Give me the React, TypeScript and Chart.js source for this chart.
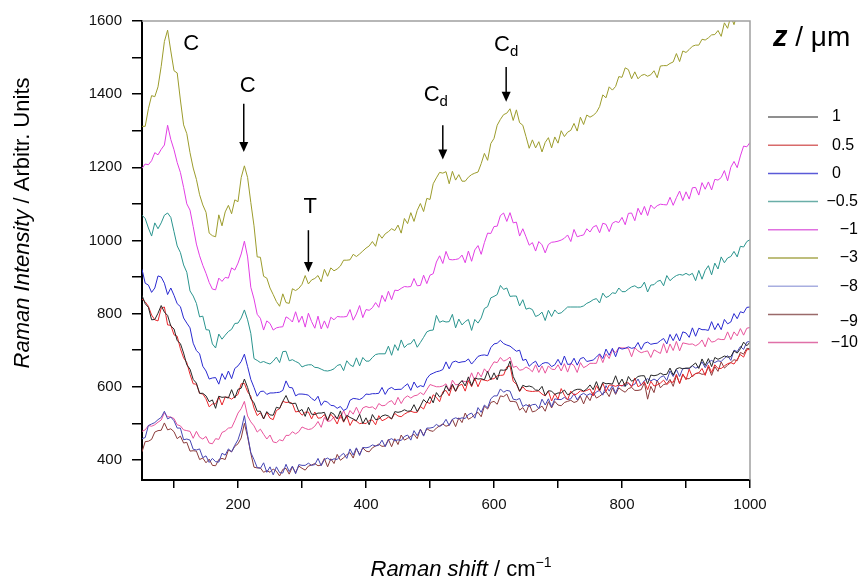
import React, { useEffect, useRef } from "react";
import { Chart, registerables } from "chart.js";

Chart.register(...registerables);

// Raman shift grid (cm^-1)
const ramanShift = [
  50, 55, 60, 65, 70, 75, 80, 85, 90, 95,
  100, 105, 110, 115, 120, 125, 130, 135, 140, 145,
  150, 155, 160, 165, 170, 175, 180, 185, 190, 195,
  200, 205, 210, 215, 220, 225, 230, 235, 240, 245,
  250, 255, 260, 265, 270, 275, 280, 285, 290, 295,
  300, 305, 310, 315, 320, 325, 330, 335, 340, 345,
  350, 355, 360, 365, 370, 375, 380, 385, 390, 395,
  400, 405, 410, 415, 420, 425, 430, 435, 440, 445,
  450, 455, 460, 465, 470, 475, 480, 485, 490, 495,
  500, 505, 510, 515, 520, 525, 530, 535, 540, 545,
  550, 555, 560, 565, 570, 575, 580, 585, 590, 595,
  600, 605, 610, 615, 620, 625, 630, 635, 640, 645,
  650, 655, 660, 665, 670, 675, 680, 685, 690, 695,
  700, 705, 710, 715, 720, 725, 730, 735, 740, 745,
  750, 755, 760, 765, 770, 775, 780, 785, 790, 795,
  800, 805, 810, 815, 820, 825, 830, 835, 840, 845,
  850, 855, 860, 865, 870, 875, 880, 885, 890, 895,
  900, 905, 910, 915, 920, 925, 930, 935, 940, 945,
  950, 955, 960, 965, 970, 975, 980, 985, 990, 995,
  1000,
];

// z = 1 µm
const z_p1 = [
  850, 827, 817, 783, 784, 801, 822, 804, 795, 766,
  758, 726, 718, 692, 660, 648, 620, 610, 582, 582,
  575, 559, 564, 541, 574, 571, 572, 569, 592, 569,
  593, 596, 621, 598, 567, 556, 533, 533, 512, 532,
  523, 522, 544, 541, 560, 576, 556, 554, 555, 532,
  538, 519, 544, 525, 524, 528, 528, 530, 508, 530,
  525, 512, 534, 505, 522, 516, 512, 507, 525, 499,
  515, 496, 524, 510, 512, 520, 523, 520, 512, 532,
  530, 532, 537, 533, 534, 551, 532, 547, 565, 556,
  573, 556, 584, 572, 580, 603, 588, 607, 588, 607,
  617, 602, 627, 603, 624, 621, 622, 619, 642, 619,
  638, 619, 646, 645, 647, 670, 628, 610, 588, 604,
  600, 602, 599, 591, 590, 601, 576, 589, 588, 579,
  583, 583, 591, 578, 582, 590, 593, 593, 588, 594,
  605, 592, 614, 591, 612, 608, 609, 607, 630, 606,
  621, 601, 628, 615, 620, 628, 630, 630, 608, 632,
  630, 632, 637, 633, 634, 651, 632, 649, 652, 649,
  651, 651, 658, 665, 650, 676, 658, 677, 655, 680,
  675, 679, 684, 681, 682, 698, 692, 704, 722, 712,
  722,
];

// z = 0.5 µm
const z_p05 = [
  840, 832, 820, 796, 783, 780, 815, 818, 769, 768,
  742, 738, 704, 679, 666, 634, 608, 607, 582, 580,
  567, 545, 553, 553, 573, 550, 572, 571, 566, 573,
  579, 608, 609, 586, 574, 542, 521, 529, 512, 530,
  514, 510, 535, 540, 560, 557, 558, 554, 531, 533,
  522, 530, 531, 512, 531, 514, 515, 524, 507, 525,
  514, 498, 523, 503, 520, 494, 510, 506, 499, 501,
  499, 508, 509, 496, 521, 507, 511, 517, 512, 527,
  520, 518, 525, 530, 533, 530, 530, 546, 539, 558,
  554, 578, 571, 559, 586, 590, 575, 604, 587, 603,
  607, 588, 617, 600, 623, 600, 620, 618, 616, 621,
  622, 630, 631, 632, 654, 657, 615, 607, 587, 600,
  590, 588, 587, 588, 588, 580, 575, 588, 561, 581,
  566, 595, 577, 564, 588, 577, 581, 589, 587, 590,
  594, 575, 603, 588, 610, 587, 605, 604, 601, 605,
  602, 610, 611, 599, 624, 600, 605, 614, 592, 615,
  602, 605, 610, 618, 606, 614, 612, 634, 609, 635,
  619, 648, 627, 636, 638, 650, 631, 659, 639, 660,
  650, 650, 657, 663, 666, 662, 675, 688, 681, 701,
  702,
];

// z = 0 µm
const z_0 = [
  921, 883, 878, 858, 870, 903, 900, 883, 852, 870,
  850, 827, 819, 788, 774, 761, 719, 699, 690, 656,
  643, 621, 624, 625, 607, 636, 620, 643, 622, 650,
  657, 669, 689, 655, 620, 598, 574, 587, 588, 579,
  583, 583, 584, 585, 590, 616, 598, 597, 575, 580,
  580, 579, 577, 568, 562, 574, 549, 561, 558, 549,
  548, 541, 546, 535, 540, 563, 568, 567, 565, 570,
  580, 579, 581, 581, 582, 598, 579, 594, 598, 592,
  593, 593, 601, 608, 590, 613, 598, 603, 600, 622,
  633, 637, 641, 643, 647, 668, 649, 667, 670, 666,
  668, 669, 676, 662, 672, 683, 686, 687, 685, 707,
  717, 719, 727, 718, 714, 711, 704, 697, 700, 672,
  675, 656, 664, 670, 654, 663, 666, 665, 655, 660,
  675, 659, 684, 661, 662, 678, 659, 677, 680, 669,
  671, 673, 681, 690, 677, 703, 686, 705, 682, 707,
  703, 705, 709, 705, 707, 721, 702, 719, 722, 716,
  718, 719, 726, 732, 717, 743, 726, 745, 725, 750,
  747, 735, 761, 738, 760, 756, 756, 754, 778, 756,
  773, 756, 784, 772, 777, 800, 786, 805, 802, 817,
  818,
];

// z = -0.5 µm
const z_m05 = [
  1069, 1060, 1034, 1012, 1048, 1032, 1048, 1069, 1075, 1063,
  1024, 985, 967, 933, 913, 862, 848, 828, 791, 793,
  756, 755, 717, 706, 744, 730, 741, 751, 757, 773,
  774, 788, 810, 783, 746, 677, 672, 666, 669, 665,
  662, 670, 681, 666, 696, 697, 671, 674, 669, 665,
  654, 658, 660, 660, 653, 652, 648, 644, 643, 645,
  649, 658, 661, 644, 671, 660, 655, 679, 657, 680,
  670, 670, 680, 688, 690, 690, 690, 711, 686, 715,
  699, 728, 707, 716, 718, 730, 708, 721, 735, 750,
  754, 755, 795, 776, 780, 777, 778, 798, 761, 785,
  769, 778, 784, 754, 784, 774, 788, 814, 819, 843,
  847, 852, 877, 866, 870, 847, 848, 848, 821, 838,
  812, 815, 811, 792, 796, 804, 781, 809, 792, 810,
  800, 802, 810, 818, 818, 818, 818, 818, 821, 828,
  832, 838, 841, 829, 856, 844, 848, 857, 855, 870,
  860, 860, 867, 873, 876, 870, 872, 886, 859, 878,
  879, 888, 891, 876, 904, 890, 898, 904, 907, 905,
  910, 905, 910, 890, 918, 894, 918, 931, 906, 938,
  922, 955, 939, 952, 956, 970, 955, 984, 982, 997,
  1002,
];

// z = -1 µm
const z_m1 = [
  1197, 1209, 1207, 1218, 1240, 1234, 1249, 1261, 1315, 1276,
  1248, 1213, 1186, 1145, 1100, 1083, 1038, 990, 958, 932,
  910, 885, 867, 865, 897, 888, 899, 897, 925, 919,
  938, 963, 998, 955, 872, 840, 798, 787, 755, 780,
  773, 755, 761, 763, 764, 791, 786, 777, 805, 776,
  793, 763, 801, 778, 760, 793, 758, 780, 760, 790,
  783, 792, 791, 791, 792, 811, 782, 799, 822, 789,
  811, 809, 816, 830, 817, 850, 833, 861, 838, 864,
  863, 869, 874, 873, 874, 896, 876, 877, 905, 882,
  905, 909, 941, 958, 937, 970, 948, 947, 948, 950,
  960, 939, 971, 943, 974, 986, 962, 994, 1020, 1019,
  1038, 1039, 1068, 1075, 1052, 1076, 1048, 1050, 1012, 1032,
  1010, 987, 994, 971, 997, 988, 966, 989, 995, 996,
  998, 1001, 1006, 1015, 997, 1030, 1010, 1013, 1015, 1032,
  1023, 1037, 1041, 1021, 1047, 1044, 1024, 1047, 1052, 1049,
  1063, 1043, 1074, 1075, 1054, 1088, 1070, 1093, 1068, 1097,
  1087, 1095, 1099, 1098, 1097, 1118, 1096, 1117, 1135, 1109,
  1133, 1113, 1144, 1145, 1124, 1158, 1140, 1160, 1138, 1167,
  1165, 1172, 1191, 1163, 1200, 1216, 1199, 1231, 1258, 1256,
  1268,
];

// z = -3 µm
const z_m3 = [
  1312, 1312, 1360, 1396, 1393, 1420, 1476, 1544, 1575, 1518,
  1464, 1458, 1384, 1316, 1292, 1240, 1198, 1167, 1125, 1097,
  1077, 1020, 1013, 1010, 1070, 1040, 1078, 1096, 1073, 1111,
  1106, 1172, 1204, 1172, 1104, 1040, 955, 954, 902, 897,
  870, 852, 833, 820, 854, 830, 828, 868, 863, 869,
  880, 904, 881, 892, 896, 904, 887, 921, 902, 925,
  917, 922, 930, 946, 946, 947, 962, 956, 963, 971,
  979, 985, 997, 984, 1018, 1006, 1018, 1024, 1032, 1027,
  1042, 1020, 1060, 1046, 1076, 1052, 1082, 1101, 1079, 1115,
  1112, 1155, 1171, 1186, 1184, 1188, 1155, 1189, 1165, 1180,
  1162, 1162, 1173, 1180, 1184, 1187, 1210, 1238, 1219, 1265,
  1279, 1315, 1331, 1344, 1348, 1360, 1328, 1357, 1322, 1315,
  1284, 1252, 1275, 1253, 1270, 1242, 1268, 1281, 1253, 1283,
  1266, 1300, 1284, 1296, 1301, 1320, 1299, 1337, 1317, 1343,
  1337, 1342, 1350, 1366, 1398, 1390, 1420, 1411, 1421, 1448,
  1446, 1472, 1467, 1442, 1461, 1442, 1451, 1454, 1449, 1453,
  1464, 1445, 1477, 1478, 1478, 1484, 1488, 1511, 1489, 1518,
  1514, 1522, 1531, 1534, 1534, 1550, 1548, 1554, 1562, 1563,
  1574, 1558, 1595, 1580, 1613, 1590, 1620, 1618, 1626, 1643,
  1645,
];

// z = -8 µm
const z_m8 = [
  458, 461, 494, 498, 502, 510, 516, 533, 512, 517,
  507, 487, 487, 455, 457, 454, 429, 427, 430, 406,
  411, 393, 404, 395, 394, 418, 413, 430, 422, 440,
  455, 482, 521, 468, 420, 401, 379, 377, 392, 366,
  381, 359, 381, 365, 364, 388, 368, 383, 362, 387,
  385, 385, 391, 385, 387, 404, 384, 401, 405, 399,
  403, 401, 411, 418, 404, 430, 413, 433, 412, 434,
  433, 435, 441, 438, 440, 454, 436, 454, 458, 452,
  455, 453, 464, 468, 454, 480, 466, 483, 465, 487,
  487, 489, 497, 491, 497, 511, 494, 511, 515, 512,
  515, 513, 524, 528, 514, 543, 530, 550, 542, 567,
  575, 575, 594, 585, 590, 588, 566, 564, 568, 546,
  551, 546, 551, 552, 540, 566, 550, 567, 545, 567,
  565, 565, 571, 565, 567, 581, 564, 577, 582, 576,
  581, 576, 586, 590, 577, 603, 588, 603, 582, 604,
  603, 602, 609, 603, 607, 621, 604, 617, 622, 616,
  621, 616, 626, 630, 617, 643, 628, 647, 628, 650,
  650, 649, 657, 651, 654, 668, 652, 667, 672, 666,
  671, 669, 678, 685, 672, 700, 696, 710, 702, 722,
  724,
];

// z = -9 µm
const z_m9 = [
  422, 450, 451, 456, 476, 480, 481, 501, 482, 485,
  477, 458, 465, 446, 448, 424, 425, 424, 401, 405,
  392, 402, 385, 384, 401, 404, 401, 427, 422, 437,
  444, 460, 500, 463, 418, 380, 378, 378, 366, 371,
  366, 375, 369, 356, 374, 377, 361, 381, 365, 383,
  377, 372, 383, 386, 390, 384, 386, 404, 381, 403,
  390, 415, 399, 406, 414, 420, 405, 431, 415, 433,
  424, 422, 433, 438, 443, 437, 438, 456, 436, 458,
  442, 468, 454, 459, 464, 470, 458, 484, 467, 485,
  480, 478, 487, 493, 498, 492, 495, 511, 491, 515,
  502, 528, 511, 516, 524, 530, 518, 547, 539, 557,
  560, 552, 575, 573, 580, 560, 560, 558, 536, 543,
  529, 552, 531, 534, 541, 547, 533, 559, 542, 560,
  550, 548, 557, 560, 563, 557, 560, 574, 553, 575,
  562, 585, 569, 574, 581, 587, 573, 597, 579, 597,
  590, 585, 595, 598, 590, 590, 592, 611, 566, 601,
  584, 618, 597, 606, 608, 620, 601, 631, 609, 633,
  622, 622, 630, 636, 638, 634, 635, 654, 631, 655,
  642, 668, 651, 659, 666, 674, 671, 694, 689, 705,
  704,
];

// z = -10 µm
const z_m10 = [
  478, 482, 494, 492, 496, 503, 509, 529, 518, 517,
  513, 496, 493, 482, 480, 478, 459, 478, 462, 457,
  464, 446, 444, 458, 456, 475, 479, 487, 488, 507,
  528, 540, 560, 520, 504, 493, 476, 484, 470, 457,
  468, 449, 447, 455, 452, 467, 467, 477, 471, 477,
  490, 486, 483, 485, 492, 505, 489, 516, 505, 507,
  518, 514, 514, 535, 514, 535, 525, 544, 525, 542,
  546, 543, 545, 538, 554, 548, 549, 558, 562, 550,
  571, 554, 569, 575, 569, 575, 577, 584, 578, 592,
  606, 603, 600, 600, 602, 608, 589, 618, 605, 607,
  616, 614, 614, 638, 616, 640, 627, 649, 638, 654,
  668, 666, 680, 670, 674, 681, 653, 656, 645, 647,
  654, 649, 641, 660, 639, 657, 637, 657, 648, 647,
  660, 643, 663, 640, 664, 658, 639, 666, 652, 657,
  664, 664, 664, 688, 666, 690, 677, 701, 693, 707,
  706, 706, 705, 682, 707, 698, 693, 696, 698, 680,
  701, 696, 691, 718, 692, 717, 699, 724, 698, 720,
  718, 716, 717, 712, 717, 728, 709, 734, 722, 724,
  731, 729, 729, 750, 729, 750, 739, 759, 741, 760,
  762,
];

const seriesLabels = ["1", "0.5", "0", "\u22120.5", "\u22121", "\u22123", "\u22128", "\u22129", "\u221210"];
const seriesValues = [z_p1, z_p05, z_0, z_m05, z_m1, z_m3, z_m8, z_m9, z_m10];
const lineColors = ["#262626", "#e8262c", "#2a2ad0", "#2a948e", "#e23ee4", "#9c9c2c", "#4646b4", "#8a3a3a", "#e8549c"];
const legendColors = ["#6a6a6a", "#d86a6a", "#5a5ad8", "#6aaea8", "#e070e0", "#a8a850", "#a8aee0", "#9a6a6a", "#e070a8"];

const xTickLabels = [200, 400, 600, 800, 1000];
const yTickLabels = [400, 600, 800, 1000, 1200, 1400, 1600];

// annotations (data coordinates)
const annoText = ["C", "C", "T", "C", "C"];
const annoSub = ["", "", "", "d", "d"];
const annoX = [127, 215, 313, 509, 619];
const annoY = [1538, 1422, 1092, 1397, 1534];
const arrowX = [209, 310, 520, 619];
const arrowFrom = [1374, 1028, 1315, 1474];
const arrowTo = [1242, 914, 1221, 1379];

const FONT = '"Liberation Sans", Arial, Helvetica, sans-serif';

type Run = { text: string; font: string; dy?: number };

function drawRuns(ctx: CanvasRenderingContext2D, runs: Run[], cx: number, cy: number, align: "center" | "left" | "right") {
  let total = 0;
  const widths = runs.map((r) => {
    ctx.font = r.font;
    const w = ctx.measureText(r.text).width;
    total += w;
    return w;
  });
  let x = align === "center" ? cx - total / 2 : align === "right" ? cx - total : cx;
  ctx.textAlign = "left";
  runs.forEach((r, i) => {
    ctx.font = r.font;
    ctx.fillText(r.text, x, cy + (r.dy || 0));
    x += widths[i];
  });
}

const overlayPlugin = {
  id: "overlay",
  afterDraw(chart: any) {
    const ctx: CanvasRenderingContext2D = chart.ctx;
    const { left, right, top, bottom } = chart.chartArea;
    const xs = chart.scales.x;
    const ys = chart.scales.y;
    ctx.save();

    // gray frame top/right
    ctx.strokeStyle = "#a0a0a0";
    ctx.lineWidth = 1.5;
    ctx.beginPath();
    ctx.moveTo(left, top);
    ctx.lineTo(right, top);
    ctx.lineTo(right, bottom);
    ctx.stroke();

    ctx.fillStyle = "#000";
    ctx.textBaseline = "middle";

    // y-axis title
    ctx.save();
    ctx.translate(23, 223);
    ctx.rotate(-Math.PI / 2);
    drawRuns(ctx, [
      { text: "Raman Intensity", font: `italic 22px ${FONT}` },
      { text: " / Arbitr. Units", font: `22px ${FONT}` },
    ], 0, 0, "center");
    ctx.restore();

    // x-axis title
    drawRuns(ctx, [
      { text: "Raman shift", font: `italic 22px ${FONT}` },
      { text: " / cm", font: `22px ${FONT}` },
      { text: "\u22121", font: `14px ${FONT}`, dy: -7 },
    ], 461, 570, "center");

    // annotations
    for (let i = 0; i < annoText.length; i++) {
      const px = xs.getPixelForValue(annoX[i]);
      const py = ys.getPixelForValue(annoY[i]);
      const runs: Run[] = [{ text: annoText[i], font: `22px ${FONT}` }];
      if (annoSub[i]) runs.push({ text: annoSub[i], font: `15px ${FONT}`, dy: 7 });
      drawRuns(ctx, runs, px, py, "center");
    }
    ctx.strokeStyle = "#000";
    ctx.lineWidth = 1.5;
    for (let i = 0; i < arrowX.length; i++) {
      const px = xs.getPixelForValue(arrowX[i]);
      const y1 = ys.getPixelForValue(arrowFrom[i]);
      const y2 = ys.getPixelForValue(arrowTo[i]);
      ctx.beginPath();
      ctx.moveTo(px, y1);
      ctx.lineTo(px, y2 - 8);
      ctx.stroke();
      ctx.beginPath();
      ctx.moveTo(px, y2);
      ctx.lineTo(px - 4.5, y2 - 10);
      ctx.lineTo(px + 4.5, y2 - 10);
      ctx.closePath();
      ctx.fill();
    }

    // legend
    drawRuns(ctx, [
      { text: "z", font: `italic bold 29px ${FONT}` },
      { text: " / \u03bcm", font: `28px ${FONT}` },
    ], 773, 38, "left");
    for (let i = 0; i < seriesLabels.length; i++) {
      const ly = 117 + i * 28.2;
      ctx.strokeStyle = legendColors[i];
      ctx.lineWidth = 1.5;
      ctx.beginPath();
      ctx.moveTo(768, ly);
      ctx.lineTo(818, ly);
      ctx.stroke();
      ctx.font = `16px ${FONT}`;
      const label = seriesLabels[i];
      const neg = label.startsWith("\u2212");
      ctx.textAlign = neg ? "right" : "left";
      ctx.fillText(label, neg ? 858 : 832, ly + (i === 7 ? 7 : 0));
    }
    ctx.restore();
  },
};

export default function App() {
  const ref = useRef<HTMLCanvasElement | null>(null);
  useEffect(() => {
    if (!ref.current) return;
    const datasets = seriesValues.map((vals, i) => ({
      label: seriesLabels[i],
      data: vals.map((v, j) => ({ x: ramanShift[j], y: v })),
      borderColor: lineColors[i],
      borderWidth: 1,
      pointRadius: 0,
      tension: 0,
      fill: false,
    }));
    const chart = new Chart(ref.current, {
      type: "line",
      data: { datasets },
      options: {
        animation: false,
        responsive: false,
        devicePixelRatio: 1,
        layout: { padding: { left: 0, right: 115, top: 21, bottom: 0 } },
        plugins: { legend: { display: false }, tooltip: { enabled: false } },
        scales: {
          x: {
            type: "linear",
            min: 50,
            max: 1000,
            afterFit: (s: any) => { s.height = 101; },
            border: { display: true, color: "#000", width: 2 },
            grid: { drawOnChartArea: false, drawTicks: true, tickLength: 8, color: "#000", lineWidth: 1.5 },
            ticks: {
              stepSize: 100,
              includeBounds: false,
              autoSkip: false,
              maxRotation: 0,
              padding: 8,
              color: "#111",
              font: { family: FONT, size: 15 },
              callback: (v: any) => (xTickLabels.includes(Number(v)) ? String(v) : ""),
            },
          },
          y: {
            type: "linear",
            min: 345,
            max: 1600,
            afterFit: (s: any) => { s.width = 142; },
            border: { display: true, color: "#000", width: 2 },
            grid: { drawOnChartArea: false, drawTicks: true, tickLength: 10, color: "#000", lineWidth: 1.5 },
            ticks: {
              stepSize: 100,
              includeBounds: false,
              autoSkip: false,
              padding: 10,
              color: "#111",
              font: { family: FONT, size: 15 },
              callback: (v: any) => (yTickLabels.includes(Number(v)) ? String(v) : ""),
            },
          },
        },
      },
      plugins: [overlayPlugin],
    });
    return () => chart.destroy();
  }, []);
  return (
    <div style={{ position: "absolute", left: 0, top: 0, width: 865, height: 581, background: "#fff" }}>
      <canvas ref={ref} width={865} height={581} style={{ width: 865, height: 581, display: "block" }} />
    </div>
  );
}
